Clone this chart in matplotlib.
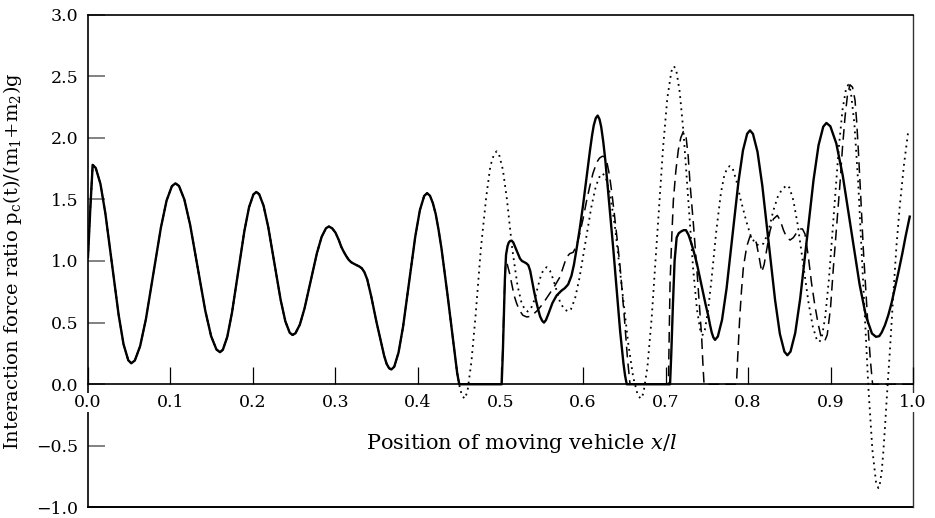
import numpy as np
import matplotlib
matplotlib.use("Agg")
import matplotlib.pyplot as plt

plt.rcParams['font.family'] = 'DejaVu Serif'
plt.rcParams['mathtext.fontset'] = 'dejavuserif'

# part shared by all three curves (they coincide up to x/l ~ 0.44)
base_x = [0.0, 0.003, 0.0057, 0.0094, 0.0151, 0.0211, 0.0291, 0.0371, 0.0431, 0.0488,
          0.0525, 0.0568, 0.0632, 0.0702, 0.0793, 0.0884, 0.0953, 0.1017, 0.106, 0.1103,
          0.1168, 0.1238, 0.133, 0.1422, 0.1492, 0.1557, 0.160, 0.1635, 0.1688, 0.1745,
          0.182, 0.1895, 0.1952, 0.2005, 0.204, 0.2075, 0.2128, 0.2185, 0.226, 0.2335,
          0.2392, 0.2445, 0.248, 0.2515, 0.2568, 0.2625, 0.270, 0.2775, 0.2832, 0.2885,
          0.292, 0.296, 0.300, 0.304, 0.307, 0.310, 0.313, 0.316, 0.319, 0.323,
          0.326, 0.329, 0.332, 0.335, 0.3385, 0.3434, 0.3495, 0.3556, 0.359, 0.362,
          0.365, 0.3677, 0.3712, 0.3764, 0.3820, 0.3894, 0.3967, 0.4023, 0.4075, 0.411,
          0.4145, 0.418, 0.4215, 0.425, 0.4285, 0.432, 0.4355, 0.439]
base_y = [1.03, 1.45, 1.78, 1.755, 1.626, 1.385, 0.975, 0.565, 0.324, 0.195,
          0.17, 0.193, 0.309, 0.528, 0.90, 1.272, 1.491, 1.607, 1.63, 1.609,
          1.499, 1.294, 0.945, 0.596, 0.391, 0.282, 0.26, 0.280, 0.384, 0.579,
          0.91, 1.241, 1.436, 1.540, 1.56, 1.542, 1.449, 1.275, 0.98, 0.685,
          0.511, 0.418, 0.40, 0.414, 0.484, 0.616, 0.84, 1.064, 1.196, 1.266,
          1.28, 1.265, 1.23, 1.17, 1.115, 1.075, 1.04, 1.01, 0.99, 0.975,
          0.965, 0.955, 0.94, 0.91, 0.85, 0.71, 0.51, 0.33, 0.23, 0.165,
          0.13, 0.12, 0.142, 0.257, 0.471, 0.835, 1.199, 1.413, 1.528, 1.55,
          1.53, 1.47, 1.38, 1.25, 1.10, 0.92, 0.74, 0.55]

# solid curve after 0.44
solid_x = [0.442, 0.445, 0.4475, 0.450, 0.5014, 0.5028, 0.5040, 0.5053, 0.5067, 0.5085,
           0.5100, 0.5118, 0.5135, 0.5155, 0.518, 0.521, 0.5236, 0.526, 0.529, 0.5315,
           0.5337, 0.536, 0.538, 0.5405, 0.543, 0.5455, 0.548, 0.5505, 0.5527, 0.555,
           0.558, 0.563, 0.568, 0.574, 0.578, 0.582, 0.586, 0.589, 0.592, 0.596,
           0.600, 0.604, 0.6085, 0.611, 0.613, 0.6155, 0.6178, 0.620, 0.622, 0.6245,
           0.627, 0.632, 0.6368, 0.641, 0.645, 0.649, 0.651, 0.653, 0.7055, 0.707,
           0.709, 0.711, 0.7135, 0.716, 0.719, 0.722, 0.7248, 0.728, 0.731, 0.7345,
           0.738, 0.7415, 0.745, 0.7485, 0.752, 0.754, 0.756, 0.758, 0.760, 0.7634,
           0.7685, 0.7740, 0.7812, 0.7884, 0.7939, 0.7990, 0.8024, 0.8060, 0.8115, 0.8173,
           0.8251, 0.8328, 0.8386, 0.8441, 0.8477, 0.8515, 0.8572, 0.8633, 0.8714, 0.8794,
           0.8855, 0.8912, 0.895, 0.8998, 0.907, 0.9148, 0.925, 0.9352, 0.943, 0.9502,
           0.955, 0.959, 0.962, 0.966, 0.970, 0.974, 0.978, 0.982, 0.987, 0.991,
           0.996]
solid_y = [0.38, 0.22, 0.09, 0.0, 0.0, 0.25, 0.55, 0.85, 1.05, 1.12,
           1.15, 1.163, 1.165, 1.15, 1.11, 1.06, 1.02, 1.00, 0.99, 0.98,
           0.966, 0.92, 0.85, 0.76, 0.68, 0.61, 0.55, 0.515, 0.50, 0.52,
           0.57, 0.66, 0.72, 0.76, 0.78, 0.81, 0.88, 0.97, 1.09, 1.26,
           1.45, 1.66, 1.90, 2.02, 2.10, 2.16, 2.18, 2.15, 2.09, 1.97,
           1.82, 1.45, 1.09, 0.75, 0.43, 0.17, 0.07, 0.0, 0.0, 0.25,
           0.65, 1.00, 1.19, 1.225, 1.24, 1.25, 1.25, 1.21, 1.15, 1.07,
           0.98, 0.87, 0.76, 0.65, 0.55, 0.48, 0.42, 0.38, 0.36, 0.387,
           0.522, 0.777, 1.21, 1.643, 1.898, 2.033, 2.06, 2.031, 1.886, 1.612,
           1.148, 0.683, 0.409, 0.264, 0.235, 0.265, 0.415, 0.698, 1.178, 1.657,
           1.94, 2.09, 2.12, 2.093, 1.954, 1.694, 1.2525, 0.811, 0.551, 0.412,
           0.385, 0.39, 0.42, 0.48, 0.56, 0.66, 0.78, 0.90, 1.06, 1.20,
           1.36]

# dashed curve after 0.44
dash_x = [0.442, 0.445, 0.4475, 0.450, 0.5014, 0.5030, 0.5045, 0.5060, 0.5075, 0.509,
          0.511, 0.514, 0.5165, 0.5196, 0.523, 0.527, 0.5317, 0.536, 0.540, 0.545,
          0.551, 0.558, 0.565, 0.572, 0.576, 0.580, 0.584, 0.588, 0.592, 0.596,
          0.600, 0.6044, 0.608, 0.612, 0.6166, 0.620, 0.6235, 0.6267, 0.629, 0.632,
          0.635, 0.638, 0.6415, 0.645, 0.650, 0.654, 0.657, 0.7035, 0.7045, 0.7055,
          0.7075, 0.7095, 0.7125, 0.7155, 0.7185, 0.7216, 0.725, 0.7275, 0.7297, 0.7338,
          0.7378, 0.741, 0.7438, 0.7452, 0.7467, 0.786, 0.7875, 0.790, 0.7922, 0.7944,
          0.7985, 0.8024, 0.806, 0.810, 0.8135, 0.8166, 0.8195, 0.8226, 0.8265, 0.8307,
          0.8355, 0.839, 0.843, 0.847, 0.851, 0.855, 0.859, 0.863, 0.866, 0.869,
          0.873, 0.877, 0.881, 0.885, 0.888, 0.891, 0.8935, 0.896, 0.900, 0.9035,
          0.9075, 0.9115, 0.9145, 0.9176, 0.9206, 0.9236, 0.9267, 0.9297, 0.9317, 0.9337,
          0.9368, 0.9398, 0.943, 0.946, 0.9485, 0.951, 1.0]
dash_y = [0.38, 0.22, 0.09, 0.0, 0.0, 0.35, 0.70, 0.95, 0.99, 0.95,
          0.90, 0.80, 0.72, 0.655, 0.60, 0.56, 0.546, 0.55, 0.57, 0.60,
          0.65, 0.72, 0.79, 0.87, 0.95, 1.03, 1.06, 1.07, 1.12, 1.22,
          1.34, 1.49, 1.60, 1.71, 1.80, 1.835, 1.85, 1.845, 1.80, 1.70,
          1.55, 1.38, 1.17, 0.95, 0.55, 0.20, 0.0, 0.0, 0.40, 0.82,
          1.18, 1.49, 1.73, 1.90, 2.00, 2.05, 2.00, 1.85, 1.63, 1.30,
          0.95, 0.65, 0.385, 0.18, 0.0, 0.0, 0.22, 0.546, 0.77, 0.95,
          1.12, 1.20, 1.19, 1.15, 1.03, 0.91, 0.97, 1.09, 1.24, 1.34,
          1.37, 1.33, 1.25, 1.19, 1.17, 1.19, 1.23, 1.26, 1.26, 1.22,
          1.04, 0.82, 0.64, 0.49, 0.40, 0.357, 0.36, 0.40, 0.62, 0.95,
          1.29, 1.63, 1.92, 2.17, 2.35, 2.43, 2.41, 2.305, 2.13, 1.90,
          1.50, 1.09, 0.74, 0.41, 0.18, 0.0, 0.0]

# dotted curve after 0.44
dot_x = [0.442, 0.445, 0.448, 0.451, 0.454, 0.457, 0.4601, 0.4647, 0.4697, 0.4762,
         0.4827, 0.4877, 0.4923, 0.4954, 0.4984, 0.5029, 0.5078, 0.5142, 0.5206, 0.5255,
         0.5300, 0.533, 0.538, 0.542, 0.5445, 0.548, 0.552, 0.556, 0.560, 0.564,
         0.568, 0.572, 0.577, 0.582, 0.5853, 0.5904, 0.5958, 0.6029, 0.6100, 0.6154,
         0.6205, 0.6238, 0.6275, 0.6330, 0.6390, 0.6469, 0.6548, 0.6608, 0.6663, 0.670,
         0.6732, 0.6781, 0.6833, 0.6902, 0.6970, 0.7022, 0.7071, 0.7103, 0.7131, 0.7172,
         0.7218, 0.7277, 0.7335, 0.7381, 0.7422, 0.745, 0.7476, 0.7516, 0.7559, 0.7615,
         0.7671, 0.7714, 0.7754, 0.778, 0.781, 0.786, 0.791, 0.798, 0.803, 0.808,
         0.813, 0.8185, 0.824, 0.8307, 0.836, 0.841, 0.847, 0.8502, 0.8549, 0.8600,
         0.8668, 0.8735, 0.8786, 0.8833, 0.8865, 0.8893, 0.8935, 0.8981, 0.9041, 0.9100,
         0.9146, 0.9188, 0.9216, 0.9245, 0.9289, 0.9336, 0.9398, 0.9460, 0.9507, 0.9551,
         0.958, 0.960, 0.962, 0.964, 0.966, 0.968, 0.970, 0.972, 0.976, 0.980,
         0.984, 0.989, 0.9943]
dot_y = [0.38, 0.22, 0.07, -0.04, -0.10, -0.117, -0.05, 0.18, 0.55, 1.10,
         1.52, 1.77, 1.87, 1.89, 1.86, 1.74, 1.50, 1.10, 0.80, 0.66,
         0.60, 0.59, 0.63, 0.70, 0.77, 0.86, 0.93, 0.95, 0.92, 0.85,
         0.76, 0.67, 0.61, 0.59, 0.608, 0.697, 0.865, 1.15, 1.435, 1.603,
         1.692, 1.71, 1.681, 1.536, 1.262, 0.797, 0.332, 0.058, -0.088, -0.117,
         -0.075, 0.141, 0.545, 1.232, 1.918, 2.322, 2.538, 2.58, 2.546, 2.372,
         2.045, 1.49, 0.935, 0.608, 0.434, 0.40, 0.44, 0.60, 0.86, 1.24,
         1.55, 1.70, 1.76, 1.77, 1.76, 1.65, 1.50, 1.32, 1.21, 1.15,
         1.125, 1.14, 1.22, 1.41, 1.52, 1.58, 1.615, 1.595, 1.4935, 1.303,
         0.979, 0.655, 0.4645, 0.363, 0.343, 0.376, 0.542, 0.855, 1.387, 1.918,
         2.231, 2.397, 2.43, 2.379, 2.117, 1.627, 0.794, -0.04, -0.53, -0.792,
         -0.843, -0.80, -0.71, -0.55, -0.35, -0.13, 0.07, 0.276, 0.72, 1.13,
         1.45, 1.78, 2.06]

x_ticks = [0.0, 0.1, 0.2, 0.3, 0.4, 0.5, 0.6, 0.7, 0.8, 0.9, 1.0]
y_ticks = [-1.0, -0.5, 0.0, 0.5, 1.0, 1.5, 2.0, 2.5, 3.0]


fig = plt.figure(figsize=(9.35, 5.18), dpi=100)
ax = fig.add_axes([0.0941, 0.0203, 0.8824, 0.9517])

ax.plot(np.concatenate([base_x, dot_x]), np.concatenate([base_y, dot_y]),
        color='black', lw=1.3, linestyle=(0, (1, 2.4)))
ax.plot(np.concatenate([base_x, dash_x]), np.concatenate([base_y, dash_y]),
        color='black', lw=1.1, linestyle=(0, (7, 4)))
ax.plot(np.concatenate([base_x, solid_x]), np.concatenate([base_y, solid_y]),
        color='black', lw=1.7)

ax.set_xlim(0, 1)
ax.set_ylim(-1, 3)

# x axis sits on the zero line, frame closed at -1
ax.spines['bottom'].set_position(('data', 0))
ax.spines['bottom'].set_linewidth(1.2)
ax.axhline(-1, color='black', lw=1.4, clip_on=False)
for s in ['left', 'top']:
    ax.spines[s].set_linewidth(1.2)
ax.spines['right'].set_linewidth(1.0)
ax.spines['right'].set_color('#333333')

ax.set_xticks(x_ticks)
ax.set_xticklabels(['%.1f' % v for v in x_ticks])
ax.set_yticks(y_ticks)
ax.set_yticklabels(['\u22121.0', '\u22120.5', '0.0', '0.5', '1.0', '1.5', '2.0', '2.5', '3.0'])
ax.tick_params(axis='x', direction='in', length=12, width=0.9, pad=7, labelsize=12.5)
ax.tick_params(axis='y', direction='in', length=12, width=1.3, color='#777777',
               pad=7, labelsize=12.5)
ax.xaxis.set_zorder(3)
for lbl in ax.get_xticklabels():
    lbl.set_bbox(dict(facecolor='white', edgecolor='none', pad=1))

ax.set_ylabel(r'Interaction force ratio p$_\mathrm{c}$(t)/(m$_1$+m$_2$)g', fontsize=14)
ax.yaxis.set_label_coords(-0.078, 0.5)

ax.text(0.526, -0.48, r'Position of moving vehicle $x/l$', fontsize=15,
        ha='center', va='center')

plt.savefig('out.png', dpi=100)
